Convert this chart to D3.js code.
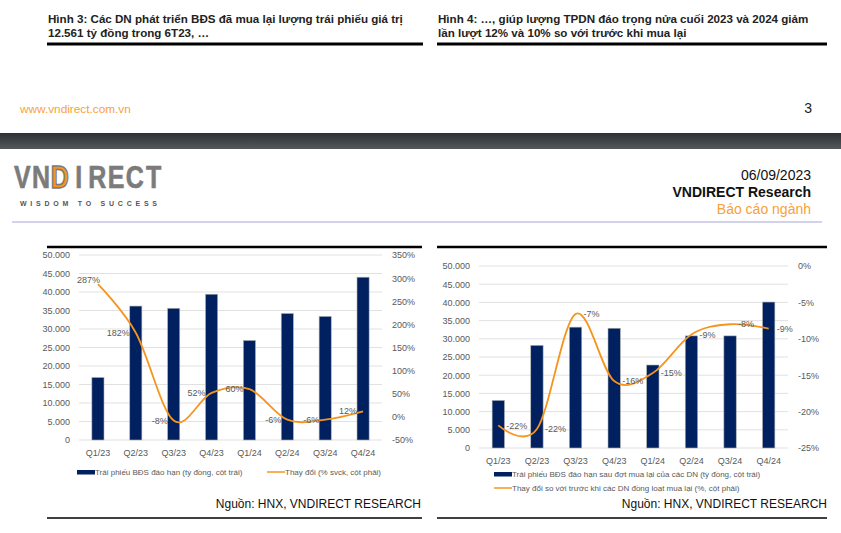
<!DOCTYPE html>
<html>
<head>
<meta charset="utf-8">
<script src="https://cdn.jsdelivr.net/npm/d3@7"></script>
<style>
  body { margin: 0; background: #fff; }
  svg { display: block; font-family: "Liberation Sans", Arial, sans-serif; }
  .tick text { fill: #595959; font-size: 9px; }
</style>
</head>
<body>
<div id="page"></div>
<script>
// data
const quarters = ["Q1/23", "Q2/23", "Q3/23", "Q4/23", "Q1/24", "Q2/24", "Q3/24", "Q4/24"];
const maturingBonds = [16900, 36200, 35600, 39400, 26900, 34200, 33400, 44000];
const yoyChange = [287, 182, -8, 52, 60, -6, -6, 12];
const afterBuyback = [13070, 28200, 33200, 32900, 22800, 30800, 30800, 40100];
const changeVsBefore = [-21.9, -22.4, -6.6, -15.8, -14.7, -9.4, -8.0, -8.6];
const leftTicks = d3.range(0, 50001, 5000);
const yoyTicks = d3.range(-50, 351, 50);
const changeTicks = d3.range(-25, 1, 5);
const logoLetters = ["V", "N", "D", "I", "R", "E", "C", "T"];

const NAVY = "#002060", ORANGE = "#f7941e", GREY = "#595959";
const vn = d3.formatLocale({decimal: ",", thousands: ".", grouping: [3], currency: ["", ""]});
const fmtK = vn.format(",.0f");

const svg = d3.select("#page").append("svg").attr("width", 841).attr("height", 533);

// ---- page furniture ----
const captions = [
  {x: 48, lines: ["Hình 3: Các DN phát triển BĐS đã mua lại lượng trái phiếu giá trị", "12.561 tỷ đồng trong 6T23, …"]},
  {x: 438, lines: ["Hình 4: …, giúp lượng TPDN đáo trọng nửa cuối 2023 và 2024 giảm", "lần lượt 12% và 10% so với trước khi mua lại"]}
];
captions.forEach(c => {
  c.lines.forEach((l, i) => {
    svg.append("text").attr("x", c.x).attr("y", 23 + i * 13.5)
      .attr("font-size", 11.6).attr("font-weight", "bold").attr("fill", "#222").text(l);
  });
});
[[47, 423, 44], [437, 827, 44], [47, 422, 247], [437, 827, 247]].forEach(([a, b, y]) => {
  svg.append("line").attr("x1", a).attr("x2", b).attr("y1", y).attr("y2", y)
    .attr("stroke", "#000").attr("stroke-width", y < 100 ? 3 : 2.5);
});
[[47, 422], [437, 827]].forEach(([a, b]) => {
  svg.append("line").attr("x1", a).attr("x2", b).attr("y1", 518).attr("y2", 518)
    .attr("stroke", "#000").attr("stroke-width", 1.5);
});

svg.append("text").attr("x", 20).attr("y", 113).attr("font-size", 11.8)
  .attr("fill", "#f7a13b").text("www.vndirect.com.vn");
svg.append("text").attr("x", 812).attr("y", 113).attr("font-size", 14)
  .attr("text-anchor", "end").attr("fill", "#222").text("3");

const grad = svg.append("defs").append("linearGradient").attr("id", "band")
  .attr("x1", 0).attr("x2", 0).attr("y1", 0).attr("y2", 1);
grad.append("stop").attr("offset", "0%").attr("stop-color", "#2e3134");
grad.append("stop").attr("offset", "100%").attr("stop-color", "#55585b");
svg.append("rect").attr("x", 0).attr("y", 133).attr("width", 841).attr("height", 16)
  .attr("fill", "url(#band)");

// logo, one letter per slot so the orange D can carry its own colour
const lx = d3.scaleBand().domain(logoLetters.map((d, i) => i)).range([13, 163]).padding(0);
svg.selectAll(".logo").data(logoLetters).enter().append("text")
  .attr("transform", (d, i) => `translate(${lx(i) + lx.bandwidth() / 2},188) scale(1,1.28)`)
  .attr("text-anchor", "middle").attr("font-size", 25).attr("font-weight", "bold")
  .attr("fill", d => d === "D" ? ORANGE : "#7b7b7b")
  .attr("stroke", "#7b7b7b").attr("stroke-width", d => d === "D" ? 1.2 : 0.5)
  .text(d => d);
svg.append("text").attr("x", 20).attr("y", 206).attr("font-size", 7).attr("font-weight", "bold")
  .attr("fill", "#555").attr("textLength", 137).attr("lengthAdjust", "spacing")
  .text("WISDOM TO SUCCESS");

svg.append("text").attr("x", 811).attr("y", 180).attr("font-size", 14).attr("text-anchor", "end")
  .attr("fill", "#111").text("06/09/2023");
svg.append("text").attr("x", 811).attr("y", 197).attr("font-size", 14).attr("text-anchor", "end")
  .attr("font-weight", "bold").attr("fill", "#111").text("VNDIRECT Research");
svg.append("text").attr("x", 811).attr("y", 214).attr("font-size", 14).attr("text-anchor", "end")
  .attr("fill", "#f7a13b").text("Báo cáo ngành");
svg.append("line").attr("x1", 12).attr("x2", 822).attr("y1", 222).attr("y2", 222)
  .attr("stroke", "#c3c3e4").attr("stroke-width", 1.5);

// ---- charts ----
const drawChart = cfg => {
  const g = svg.append("g");
  const x = d3.scaleBand().domain(quarters).range([cfg.left, cfg.right]).paddingInner(0.68).paddingOuter(0.34);
  const y = d3.scaleLinear().domain([0, 50000]).range([cfg.bottom, cfg.top]);
  const y2 = d3.scaleLinear().domain(cfg.y2Domain).range([cfg.bottom, cfg.top]);

  g.selectAll(".grid").data(leftTicks).enter().append("line")
    .attr("x1", cfg.left).attr("x2", cfg.right)
    .attr("y1", d => y(d)).attr("y2", d => y(d))
    .attr("stroke", "#d9d9d9").attr("stroke-width", 0.8);

  const ax = g.append("g").attr("transform", `translate(${cfg.left - 6},0)`)
    .call(d3.axisLeft(y).tickValues(leftTicks).tickSize(0).tickFormat(fmtK));
  ax.select(".domain").remove();

  const ax2 = g.append("g").attr("transform", `translate(${cfg.right + 7},0)`)
    .call(d3.axisRight(y2).tickValues(cfg.y2Ticks).tickSize(0).tickFormat(d => d + "%"));
  ax2.select(".domain").remove();

  const axb = g.append("g").attr("transform", `translate(0,${cfg.bottom + 7})`)
    .call(d3.axisBottom(x).tickSize(0));
  axb.select(".domain").remove();

  g.selectAll(".bar").data(cfg.bars).enter().append("rect")
    .attr("x", (d, i) => x(quarters[i]))
    .attr("y", d => y(d))
    .attr("width", x.bandwidth())
    .attr("height", d => cfg.bottom - y(d))
    .attr("fill", NAVY).attr("stroke", "#b0b0b0").attr("stroke-width", 0.6);

  const cx = i => x(quarters[i]) + x.bandwidth() / 2;
  const line = d3.line().x((d, i) => cx(i)).y(d => y2(d)).curve(d3.curveCardinal.tension(0));
  g.append("path").datum(cfg.line).attr("d", line)
    .attr("fill", "none").attr("stroke", ORANGE).attr("stroke-width", 1.8);

  // first label of the left chart sits above its point, the rest beside it
  g.selectAll(".lbl").data(cfg.line).enter().append("text")
    .attr("x", (d, i) => cx(i) + (cfg.labelDx < 0 && i === 0 ? 2 : cfg.labelDx))
    .attr("y", (d, i) => y2(d) - (cfg.labelDx < 0 && i === 0 ? 4 : 0))
    .attr("dy", "0.35em")
    .attr("text-anchor", cfg.labelDx < 0 ? "end" : "start")
    .attr("font-size", 9).attr("fill", GREY)
    .text(d => Math.round(d) + "%");

  // legend
  cfg.legend.forEach((item, i) => {
    const lx = cfg.legendPos[i][0], ly = cfg.legendPos[i][1];
    if (item.type === "bar") {
      g.append("rect").attr("x", lx).attr("y", ly - 2).attr("width", 18).attr("height", 4.5).attr("fill", NAVY);
    } else {
      g.append("line").attr("x1", lx).attr("x2", lx + 18).attr("y1", ly).attr("y2", ly)
        .attr("stroke", ORANGE).attr("stroke-width", 1.5);
    }
    g.append("text").attr("x", lx + 18).attr("y", ly).attr("dy", "0.35em")
      .attr("font-size", 8).attr("fill", GREY).text(item.label);
  });

  g.append("text").attr("x", cfg.sourceX).attr("y", 508).attr("text-anchor", "end")
    .attr("font-size", 12).attr("fill", "#111").text("Nguồn: HNX, VNDIRECT RESEARCH");
};

drawChart({
  left: 79, right: 382, top: 255, bottom: 440,
  y2Domain: [-50, 350], y2Ticks: yoyTicks,
  bars: maturingBonds, line: yoyChange, labelDx: -6,
  legend: [
    {type: "bar", label: "Trái phiếu BĐS đáo hạn (tỷ đồng, cột trái)"},
    {type: "line", label: "Thay đổi (% svck, cột phải)"}
  ],
  legendPos: [[77, 472], [267, 472]],
  sourceX: 421
});

drawChart({
  left: 479, right: 788, top: 266, bottom: 448,
  y2Domain: [-25, 0], y2Ticks: changeTicks,
  bars: afterBuyback, line: changeVsBefore, labelDx: 8,
  legend: [
    {type: "bar", label: "Trái phiếu BĐS đáo hạn sau đợt mua lại của các DN (tỷ đồng, cột trái)"},
    {type: "line", label: "Thay đổi so với trước khi các DN đồng loạt mua lại (%, cột phải)"}
  ],
  legendPos: [[494, 474], [494, 488]],
  sourceX: 827
});
</script>
</body>
</html>
